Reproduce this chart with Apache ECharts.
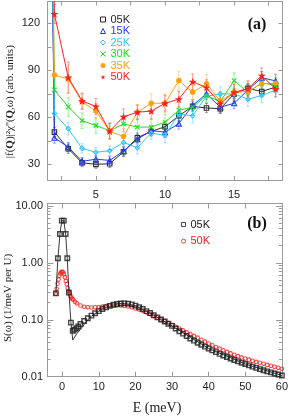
<!DOCTYPE html>
<html><head><meta charset="utf-8">
<script src="https://cdn.jsdelivr.net/npm/echarts@6/dist/echarts.min.js"></script>
<style>html,body{margin:0;padding:0;background:#fff}#c{width:291px;height:416px}</style>
</head><body><div id="c"></div>
<script>
// ---------- panel (a) data ----------
const energyA = [1.5, 2, 3, 4, 5, 6, 7, 8, 9, 10, 11, 12, 13, 14, 15, 16, 17, 18];
const chi05K = [400, 50.6, 40, 31, 30, 30.4, 38, 47, 51, 54, 61, 67, 66, 65.5, 75, 78.5, 76.5, 79.3];
const chi15K = [400, 47, 41, 31.9, 33.3, 32.5, 38.5, 46, 51.5, 50.6, 56, 67.6, 75, 66.5, 69, 77.5, 85.3, 83.3];
const chi25K = [400, 62.5, 52.7, 40.2, 37.7, 38.7, 44, 40.6, 50, 48.5, 62, 61, 73.5, 75, 75, 71.6, 74, 77.4];
const chi30K = [400, 77.5, 66.7, 57.9, 54.8, 51.5, 55.8, 53.8, 53.8, 57, 64.5, 66.5, 74, 70, 83.5, 76, 82, 80.5];
const chi35K = [400, 87, 84.5, 70, 64, 51, 47.8, 63.3, 69, 69, 83.5, 76, 81.5, 70.5, 76, 76.7, 81.4, 81.8];
const chi50K = [400, 126, 85.5, 70.5, 67, 51.2, 60.4, 63.3, 64, 69, 71.6, 82.8, 79, 68.7, 76, 78.4, 86.6, 78.2];
const err05K = [0, 3, 3, 2.5, 2.5, 2.5, 3, 3, 3, 3, 3, 3, 3, 3, 3, 3, 3, 3];
const err15K = [0, 3.5, 3, 2.5, 2.5, 2.5, 3, 3, 3, 3.5, 3.5, 3.5, 3.5, 3.5, 3.5, 3.5, 4, 4];
const err25K = [0, 4, 4, 3, 3, 3, 3.5, 4, 4, 4.5, 4.5, 4.5, 4.5, 4.5, 4.5, 4.5, 4.5, 4.5];
const err30K = [0, 5, 6, 5, 5, 5, 5, 5, 5, 5, 5, 5, 5, 5, 5, 5, 5, 5];
const err35K = [0, 6, 9, 5, 5, 5, 5, 5, 6, 6, 6, 6, 6, 6, 6, 6, 6, 6];
const err50K = [0, 6, 10, 5, 5, 5, 5, 4.5, 5, 5, 5, 5, 5, 5, 5, 5, 5, 5];
const namesA = ['05K', '15K', '25K', '30K', '35K', '50K'];
const ticksAx = [2.5, 5, 7.5, 10, 12.5, 15, 17.5];
const labelsAx = [5, 10, 15];
const ticksAy = [30, 45, 60, 75, 90, 105, 120];
const labelsAy = [30, 60, 90, 120];

// ---------- panel (b) data ----------
const energy05K = [-1.7, -1.15, -0.6, -0.1, 0.45, 0.95, 1.4, 1.85, 2.4, 2.9, 3.4, 3.9, 4.4, 5, 6, 7, 8, 9, 10, 11, 12, 13, 14, 15, 16, 17, 18, 19, 20, 21, 22, 23, 24, 25, 26, 27, 28, 29, 30, 31, 32, 33, 34, 35, 36, 37, 38, 39, 40, 41, 42, 43, 44, 45, 46, 47, 48, 49, 50, 51, 52, 53, 54, 55, 56, 57, 58, 59, 60];
const sw05K = [0.29, 1.2, 3.2, 5.5, 5.5, 3.2, 1.2, 0.3, 0.089, 0.064, 0.067, 0.071, 0.076, 0.084, 0.095, 0.106, 0.118, 0.13, 0.142, 0.154, 0.165, 0.175, 0.183, 0.189, 0.193, 0.194, 0.192, 0.186, 0.177, 0.166, 0.154, 0.142, 0.131, 0.12, 0.11, 0.101, 0.093, 0.085, 0.078, 0.07, 0.063, 0.057, 0.052, 0.047, 0.043, 0.0395, 0.0365, 0.0338, 0.0313, 0.029, 0.027, 0.0252, 0.0236, 0.0222, 0.0209, 0.0197, 0.0186, 0.0176, 0.0167, 0.0158, 0.015, 0.0143, 0.0136, 0.013, 0.0124, 0.0119, 0.0114, 0.0109, 0.0105];
const energy50K = [-1.75, -1.5, -1.25, -1, -0.75, -0.5, -0.25, 0, 0.25, 0.5, 0.75, 1, 1.25, 1.5, 1.75, 2, 2.25, 2.5, 2.75, 3, 3.5, 4, 5, 6, 7, 8, 9, 10, 11, 12, 13, 14, 15, 16, 17, 18, 19, 20, 21, 22, 23, 24, 25, 26, 27, 28, 29, 30, 31, 32, 33, 34, 35, 36, 37, 38, 39, 40, 41, 42, 43, 44, 45, 46, 47, 48, 49, 50, 51, 52, 53, 54, 55, 56, 57, 58, 59, 60];
const sw50K = [0.29, 0.35, 0.43, 0.51, 0.59, 0.65, 0.69, 0.7, 0.68, 0.63, 0.56, 0.48, 0.42, 0.36, 0.32, 0.29, 0.265, 0.245, 0.232, 0.225, 0.207, 0.194, 0.178, 0.169, 0.165, 0.164, 0.165, 0.167, 0.17, 0.173, 0.176, 0.178, 0.179, 0.178, 0.175, 0.171, 0.165, 0.158, 0.152, 0.144, 0.135, 0.126, 0.117, 0.109, 0.101, 0.094, 0.087, 0.081, 0.075, 0.07, 0.065, 0.06, 0.056, 0.052, 0.0485, 0.0445, 0.0412, 0.0382, 0.0356, 0.0332, 0.031, 0.029, 0.0272, 0.0256, 0.0242, 0.0229, 0.0218, 0.0208, 0.0199, 0.019, 0.0182, 0.0175, 0.0168, 0.0161, 0.0155, 0.0149, 0.0143, 0.0138];
const energyFit = [-1.7, -1.15, -0.6, -0.1, 0.45, 0.95, 1.4, 1.85, 2.4, 2.9, 4, 5, 6, 7, 8, 10, 12, 15, 17, 20, 25, 30, 40, 50, 60];
const swFit = [0.29, 1.2, 3.2, 5.5, 5.5, 3.2, 1.2, 0.3, 0.089, 0.044, 0.057, 0.068, 0.082, 0.1, 0.115, 0.142, 0.165, 0.189, 0.194, 0.177, 0.12, 0.078, 0.0313, 0.0167, 0.0105];
const ticksBx = [0, 10, 20, 30, 40, 50, 60];
const labelsBy = [0.01, 0.1, 1, 10];
const minorBy = [0.02,0.03,0.04,0.05,0.06,0.07,0.08,0.09,0.2,0.3,0.4,0.5,0.6,0.7,0.8,0.9,2,3,4,5,6,7,8,9];

// ---------- styling ----------
const colorsA = ['#2a2a2a', '#1f3cff', '#35c3ff', '#22dd22', '#ffa010', '#ff2020'];
const starPath = 'path://M5,0L6.2,3.6L10,3.6L6.9,5.9L8.1,9.5L5,7.3L1.9,9.5L3.1,5.9L0,3.6L3.8,3.6Z';
const crossPath = 'path://M0,0L10,10M10,0L0,10';
const symA = ['rect', 'triangle', 'diamond', crossPath, 'circle', starPath];
const sizeA = [4.5, 5, 4.5, 4.5, 5.5, 8];
const hollowA = [true, true, true, true, false, false];
const valsA = [chi05K, chi15K, chi25K, chi30K, chi35K, chi50K];
const errsA = [err05K, err15K, err25K, err30K, err35K, err50K];

const AX = '#9a9a9a';
const FONT = 'Liberation Sans';
const SERIF = 'Liberation Serif';

function errRender(color) {
  return function (params, api) {
    const x = api.value(0), lo = api.value(1), hi = api.value(2);
    const a = api.coord([x, hi]), b = api.coord([x, lo]);
    const st = { stroke: color, lineWidth: 0.8, opacity: 0.55 };
    return { type: 'group', children: [
      { type: 'line', shape: { x1: a[0], y1: a[1], x2: b[0], y2: b[1] }, style: st },
      { type: 'line', shape: { x1: a[0] - 1.5, y1: a[1], x2: a[0] + 1.5, y2: a[1] }, style: st },
      { type: 'line', shape: { x1: b[0] - 1.5, y1: b[1], x2: b[0] + 1.5, y2: b[1] }, style: st }
    ]};
  };
}

const series = [];
namesA.forEach((n, k) => {
  const ed = [];
  energyA.forEach((e, i) => { if (errsA[k][i] > 0) ed.push([e, valsA[k][i] - errsA[k][i], valsA[k][i] + errsA[k][i]]); });
  series.push({ type: 'custom', name: 'err' + n, xAxisIndex: 0, yAxisIndex: 0, data: ed,
    encode: { x: 0, y: [1, 2] }, renderItem: errRender(colorsA[k]), z: 1, silent: true });
});
namesA.forEach((n, k) => {
  series.push({ type: 'line', name: n, xAxisIndex: 0, yAxisIndex: 0,
    data: energyA.map((e, i) => [e, valsA[k][i]]),
    symbol: symA[k], symbolSize: sizeA[k], showAllSymbol: true, clip: true,
    lineStyle: { color: colorsA[k], width: 1 },
    itemStyle: hollowA[k] ? { color: 'rgba(255,255,255,0)', borderColor: colorsA[k], borderWidth: 1.1 } : { color: colorsA[k], borderWidth: 0 },
    z: 3 + k, animation: false });
});
series.push({ type: 'scatter', name: '50K_b', xAxisIndex: 2, yAxisIndex: 2,
  data: energy50K.map((e, i) => [e, sw50K[i]]), symbol: 'circle', symbolSize: 3.6,
  itemStyle: { color: 'rgba(255,255,255,0)', borderColor: '#ff1a1a', borderWidth: 1.1 }, z: 3 });
series.push({ type: 'scatter', name: '05K_b', xAxisIndex: 2, yAxisIndex: 2,
  data: energy05K.map((e, i) => [e, sw05K[i]]), symbol: 'rect', symbolSize: 4.5,
  itemStyle: { color: 'rgba(255,255,255,0)', borderColor: '#1a1a1a', borderWidth: 1.4 }, z: 4 });
series.push({ type: 'line', name: 'fit', xAxisIndex: 2, yAxisIndex: 2,
  data: energyFit.map((e, i) => [e, swFit[i]]), symbol: 'none',
  lineStyle: { color: '#222', width: 0.9 }, z: 5 });

const lbl = { color: '#222', fontSize: 11, fontFamily: FONT };
function xAx(grid, pos, min, max, ticks, labels, len, margin) {
  return { type: 'value', gridIndex: grid, position: pos, min: min, max: max,
    axisLine: { show: true, onZero: false, lineStyle: { color: AX, width: 1 } },
    axisTick: { show: true, inside: true, length: len, customValues: ticks, lineStyle: { color: AX } },
    axisLabel: labels ? Object.assign({ show: true, customValues: labels, margin: margin }, lbl) : { show: false },
    splitLine: { show: false } };
}
function yAx(grid, pos, type, min, max, ticks, labels, len, fmt, margin) {
  const o = { type: type, gridIndex: grid, position: pos, min: min, max: max,
    axisLine: { show: true, onZero: false, lineStyle: { color: AX, width: 1 } },
    axisTick: { show: true, inside: true, length: len, customValues: ticks, lineStyle: { color: AX } },
    axisLabel: labels ? Object.assign({ show: true, customValues: labels, margin: margin, formatter: fmt }, lbl) : { show: false },
    splitLine: { show: false } };
  if (type === 'log') o.logBase = 10;
  return o;
}

const option = {
  animation: false,
  backgroundColor: '#fff',
  grid: [
    { left: 47.5, top: 1.5, width: 235, height: 178.5 },
    { left: 47.5, top: 203.5, width: 235, height: 173.2 }
  ],
  xAxis: [
    xAx(0, 'bottom', 1.5, 18.5, ticksAx, labelsAx, 4, 9),
    xAx(0, 'top', 1.5, 18.5, ticksAx, null, 4),
    xAx(1, 'bottom', -4, 60, ticksBx, ticksBx, 5, 5),
    xAx(1, 'top', -4, 60, ticksBx, null, 5)
  ],
  yAxis: [
    yAx(0, 'left', 'value', 20, 134, ticksAy, labelsAy, 4, v => String(v), 7.5),
    yAx(0, 'right', 'value', 20, 134, ticksAy, null, 4),
    yAx(1, 'left', 'log', 0.01, 11, labelsBy, labelsBy, 6, v => Number(v).toFixed(2), 4.5),
    yAx(1, 'left', 'log', 0.01, 11, minorBy, null, 3),
    yAx(1, 'right', 'log', 0.01, 11, labelsBy, null, 6),
    yAx(1, 'right', 'log', 0.01, 11, minorBy, null, 3)
  ],
  legend: [
    { left: 100, top: 14, orient: 'vertical', itemWidth: 5, itemHeight: 5, itemGap: 0.5, padding: 0,
      selectedMode: false, textStyle: { fontSize: 11, fontFamily: FONT },
      itemStyle: { borderWidth: 1 },
      data: namesA.map((n, k) => ({ name: n, icon: symA[k], textStyle: { color: colorsA[k] } })) },
    { left: 181, top: 219, orient: 'vertical', itemWidth: 4, itemHeight: 4, itemGap: 5.7, padding: 0,
      selectedMode: false, textStyle: { fontSize: 11, fontFamily: FONT },
      itemStyle: { borderWidth: 1 },
      formatter: n => n.replace('_b', ''),
      data: [{ name: '05K_b', icon: 'rect', textStyle: { color: '#222' } },
             { name: '50K_b', icon: 'circle', textStyle: { color: '#ff1a1a' } }] }
  ],
  graphic: [
    { type: 'text', x: 10.5, y: 101.7, rotation: Math.PI / 2,
      style: { text: '|f({b|Q})|²χ\'\'({b|Q},ω) (arb. units)', fontFamily: SERIF, fontSize: 11, fill: '#222',
        align: 'center', verticalAlign: 'middle',
        rich: { b: { fontWeight: 'bold', fontFamily: SERIF, fontSize: 11, fill: '#222' } } } },
    { type: 'text', x: 8.5, y: 298, rotation: Math.PI / 2,
      style: { text: 'S(ω) (1/meV per U)', fontFamily: SERIF, fontSize: 11, fill: '#222', align: 'center', verticalAlign: 'middle' } },
    { type: 'text', x: 157, y: 408,
      style: { text: 'E (meV)', fontFamily: SERIF, fontSize: 14, fill: '#222', align: 'center', verticalAlign: 'middle' } },
    { type: 'text', x: 257, y: 25,
      style: { text: '(a)', fontFamily: SERIF, fontSize: 16, fontWeight: 'bold', fill: '#111', align: 'center', verticalAlign: 'middle' } },
    { type: 'text', x: 257, y: 224,
      style: { text: '(b)', fontFamily: SERIF, fontSize: 16, fontWeight: 'bold', fill: '#111', align: 'center', verticalAlign: 'middle' } }
  ],
  series: series
};
const chart = echarts.init(document.getElementById('c'), null, { renderer: 'canvas' });
chart.setOption(option);
</script>
</body></html>
